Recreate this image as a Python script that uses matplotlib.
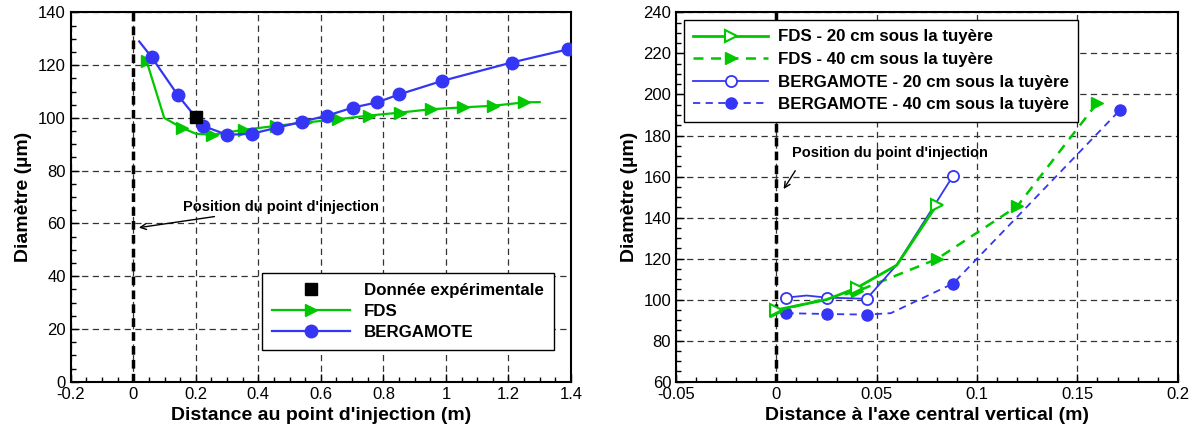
import matplotlib.pyplot as plt
from matplotlib.ticker import MultipleLocator

plt.rcParams.update({'font.family': 'Liberation Sans', 'font.size': 10})

# ---- left chart: diameter along the distance to injection point ----
exp_x = [0.2]
exp_y = [100.5]

fds_x = [0.043, 0.099, 0.155, 0.2, 0.253, 0.354, 0.458, 0.554, 0.655, 0.754,
         0.852, 0.953, 1.054, 1.15, 1.251, 1.30]
fds_y = [121.4, 100.0, 96.3, 94.0, 93.6, 95.5, 97.0, 98.3, 99.5, 100.9,
         102.0, 103.3, 104.0, 104.6, 105.9, 106.0]
fds_marks = [0, 2, 4, 5, 6, 7, 8, 9, 10, 11, 12, 13, 14]

berg_x = [0.019, 0.059, 0.142, 0.222, 0.30, 0.379, 0.46, 0.541, 0.621, 0.702,
          0.78, 0.85, 0.987, 1.21, 1.39]
berg_y = [129.0, 123.0, 108.7, 97.0, 93.6, 94.0, 96.3, 98.6, 100.9, 103.9,
          105.9, 108.9, 114.0, 121.0, 126.0]
berg_marks = list(range(1, 15))

# ---- right chart: diameter along the distance to the vertical axis ----
fds20_x = [0.0, 0.025, 0.04, 0.06, 0.08]
fds20_y = [95.0, 100.0, 105.7, 116.8, 146.3]
fds20_marks = [0, 2, 4]

fds40_x = [0.0, 0.04, 0.08, 0.12, 0.16]
fds40_y = [94.5, 104.0, 119.8, 145.5, 196.0]

berg20_x = [0.005, 0.015, 0.025, 0.045, 0.06, 0.088]
berg20_y = [101.0, 102.0, 101.0, 100.4, 117.0, 160.3]
berg20_marks = [0, 2, 3, 5]

berg40_x = [0.005, 0.025, 0.045, 0.057, 0.088, 0.171]
berg40_y = [93.4, 93.0, 92.7, 93.4, 107.8, 192.2]
berg40_marks = [0, 1, 2, 4, 5]

GREEN = '#00c800'
BLUE = '#3535f5'
grid_kw = dict(color='#333333', linestyle=(0, (5, 3.5)), linewidth=0.9)
label_kw = dict(fontsize=14, fontweight='bold')


def style_axes(ax):
    ax.tick_params(which='both', direction='in', top=False, right=False,
                   labelsize=12, width=1)
    ax.tick_params(which='major', length=6)
    ax.tick_params(which='minor', length=3.5)
    for s in ax.spines.values():
        s.set_linewidth(1.5)
    ax.grid(True, which='major', **grid_kw)
    ax.set_axisbelow(True)


fig = plt.figure(figsize=(11.93, 4.28), dpi=100)
ax1 = fig.add_axes([0.0593, 0.1082, 0.4193, 0.8628])
ax2 = fig.add_axes([0.5667, 0.1082, 0.4205, 0.8628])

# left
ax1.set_xlim(-0.2, 1.4)
ax1.set_ylim(0, 140)
ax1.xaxis.set_major_locator(MultipleLocator(0.2))
ax1.xaxis.set_minor_locator(MultipleLocator(0.05))
ax1.yaxis.set_major_locator(MultipleLocator(20))
ax1.yaxis.set_minor_locator(MultipleLocator(5))
style_axes(ax1)
ax1.xaxis.set_major_formatter(lambda v, p: f'{v:g}')
ax1.axvline(0, color='black', linestyle=(0, (2.5, 1.5)), linewidth=2.5, zorder=2)
ax1.plot(exp_x, exp_y, 's', color='black', markersize=8, zorder=5,
         label='Donnée expérimentale')
ax1.plot(fds_x, fds_y, '-', marker='>', color=GREEN, lw=1.6, markersize=8,
         markevery=fds_marks, zorder=3, label='FDS')
ax1.plot(berg_x, berg_y, '-', marker='o', color=BLUE, lw=1.6, markersize=9,
         markevery=berg_marks, zorder=4, label='BERGAMOTE')
ax1.annotate("Position du point d'injection", xy=(0.018, 58.4),
             xytext=(0.16, 66.3), fontsize=10.5, fontweight='bold',
             va='center', ha='left',
             arrowprops=dict(arrowstyle='->', color='black', lw=1,
                             shrinkA=0, shrinkB=0))
ax1.set_xlabel("Distance au point d'injection (m)", **label_kw)
ax1.set_ylabel('Diamètre (µm)', **label_kw)
leg1 = ax1.legend(loc='lower right', bbox_to_anchor=(0.966, 0.0858),
                  fancybox=False, framealpha=1, edgecolor='black',
                  handlelength=4.6, prop={'weight': 'bold', 'size': 12.2},
                  borderpad=0.6, labelspacing=0.35, borderaxespad=0)
leg1.get_frame().set_linewidth(1)

# right
ax2.set_xlim(-0.05, 0.2)
ax2.set_ylim(60, 240)
ax2.xaxis.set_major_locator(MultipleLocator(0.05))
ax2.xaxis.set_minor_locator(MultipleLocator(0.01))
ax2.yaxis.set_major_locator(MultipleLocator(20))
ax2.yaxis.set_minor_locator(MultipleLocator(5))
style_axes(ax2)
ax2.xaxis.set_major_formatter(lambda v, p: f'{v:g}')
ax2.axvline(0, color='black', linestyle=(0, (2.5, 1.5)), linewidth=2.5, zorder=2)
ax2.plot(fds20_x, fds20_y, '-', marker='>', color=GREEN, mfc='white', mew=1.5,
         lw=2, markersize=9, markevery=fds20_marks, zorder=5,
         label='FDS - 20 cm sous la tuyère')
ax2.plot(fds40_x, fds40_y, linestyle=(0, (4, 3)), marker='>', color=GREEN,
         lw=1.8, markersize=9, zorder=4, label='FDS - 40 cm sous la tuyère')
ax2.plot(berg20_x, berg20_y, '-', marker='o', color=BLUE, mfc='white', mew=1.3,
         lw=1.3, markersize=8, markevery=berg20_marks, zorder=4,
         label='BERGAMOTE - 20 cm sous la tuyère')
ax2.plot(berg40_x, berg40_y, linestyle=(0, (4, 3)), marker='o', color=BLUE,
         lw=1.3, markersize=8, markevery=berg40_marks, zorder=3,
         label='BERGAMOTE - 40 cm sous la tuyère')
ax2.annotate("Position du point d'injection", xy=(0.0036, 153.9),
             xytext=(0.008, 171.6), fontsize=10.5, fontweight='bold',
             va='center', ha='left',
             arrowprops=dict(arrowstyle='->', color='black', lw=1,
                             shrinkA=7, shrinkB=0, relpos=(0.05, 0)))
ax2.set_xlabel("Distance à l'axe central vertical (m)", **label_kw)
ax2.set_ylabel('Diamètre (µm)', **label_kw)
leg2 = ax2.legend(loc='upper left', bbox_to_anchor=(0.016, 0.979),
                  fancybox=False, framealpha=1, edgecolor='black',
                  handlelength=4.4, prop={'weight': 'bold', 'size': 12.2},
                  borderpad=0.55, labelspacing=0.45, borderaxespad=0,
                  handletextpad=0.6)
leg2.get_frame().set_linewidth(1)
leg2.set_zorder(10)

fig.savefig('out.png', dpi=100)
